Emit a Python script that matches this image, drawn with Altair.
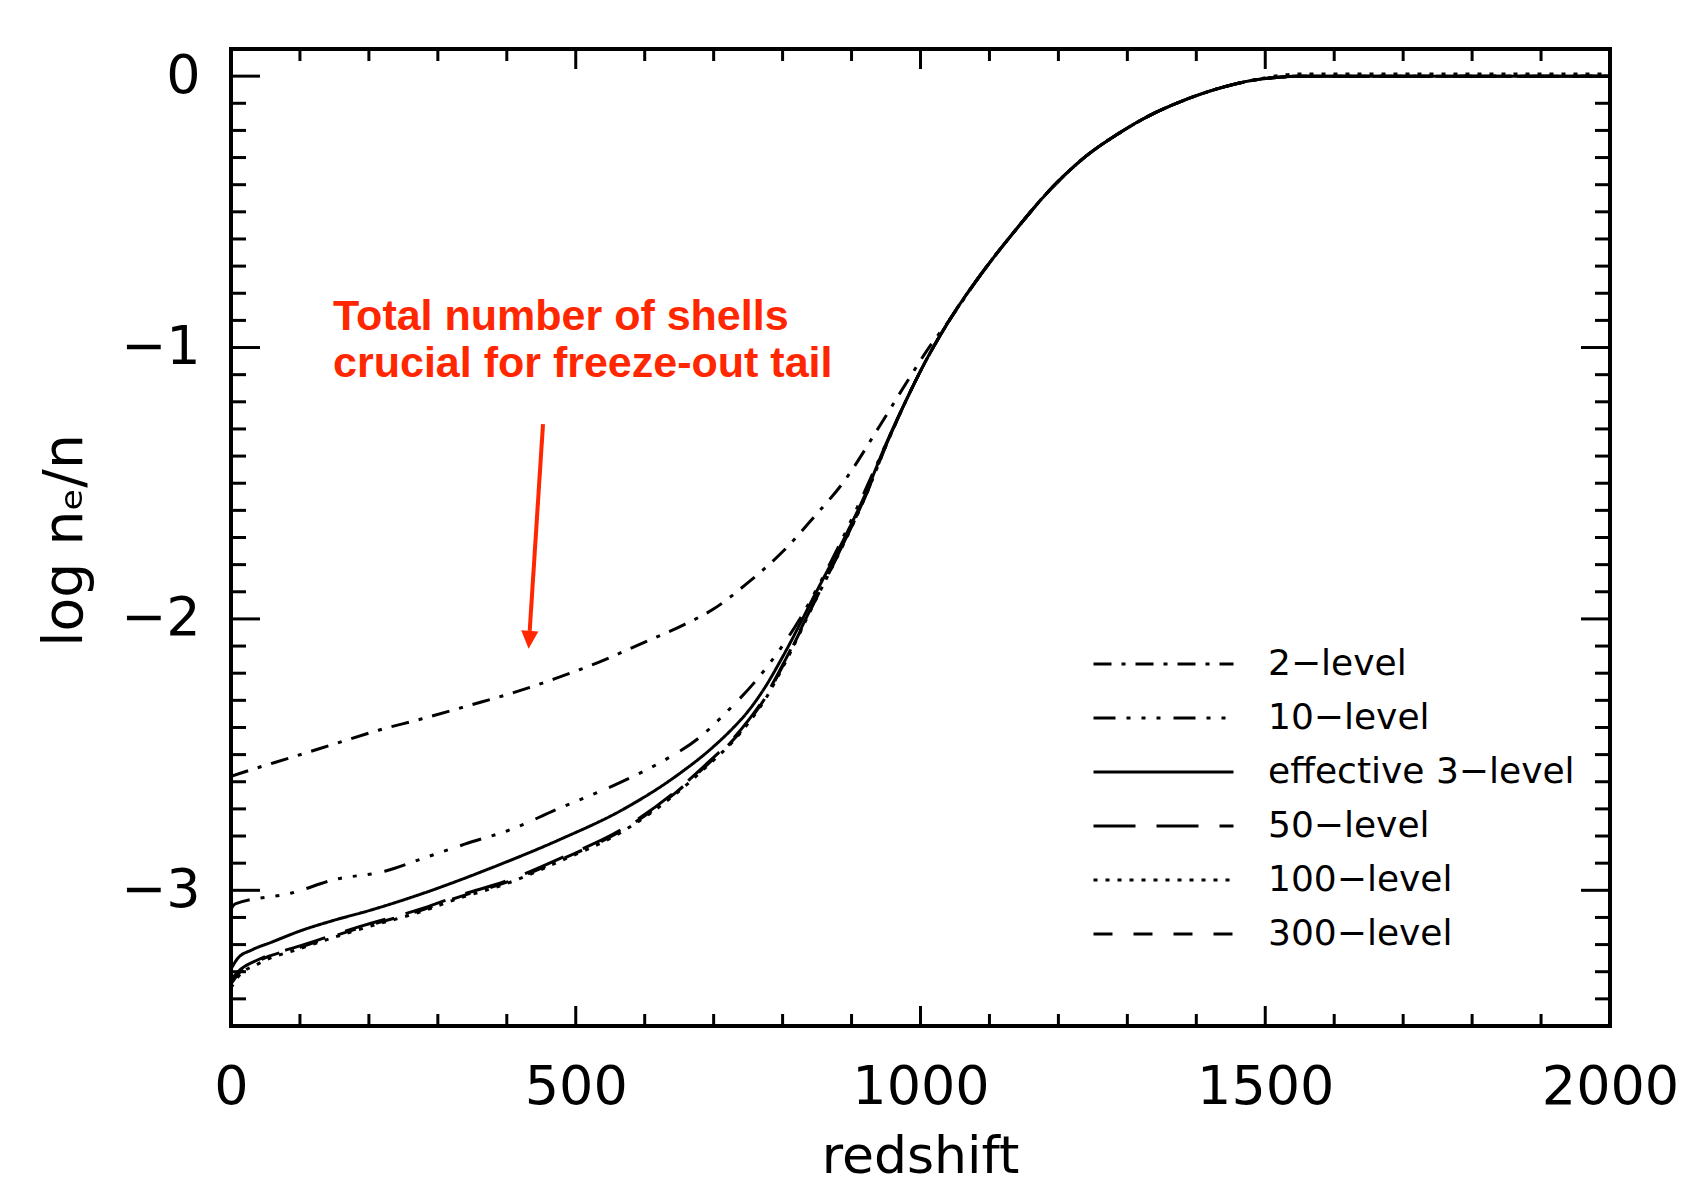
import altair as alt
import pandas as pd

# ---------------- data ----------------
SERIES = ["2\u2212level", "10\u2212level", "effective 3\u2212level",
          "50\u2212level", "100\u2212level", "300\u2212level"]

Z_2LEV = [0, 18, 88, 151, 214, 277, 344, 412, 470, 533, 596, 658, 702, 748, 801, 845, 888,
          941, 980, 1014, 1043, 1086, 1135, 1193, 1240, 1285, 1330, 1381, 1430, 1478, 1520,
          1550, 2000]
V_2LEV = [-2.58, -2.565, -2.51, -2.46, -2.41, -2.368, -2.32, -2.27, -2.22, -2.16, -2.09,
          -2.02, -1.96, -1.87, -1.75, -1.626, -1.497, -1.288, -1.128, -0.994, -0.895, -0.736,
          -0.576, -0.405, -0.295, -0.215, -0.148, -0.09, -0.047, -0.017, -0.004, 0, 0]

Z_10LEV = [0, 6, 88, 151, 223, 281, 339, 412, 465, 571, 629, 678, 716, 767, 825, 870, 910,
           950, 980, 1005, 1043, 1086, 1135, 1193, 1240, 1285, 1330, 1381, 1430, 1478, 1520,
           1550, 2000]
V_10LEV = [-3.07, -3.05, -3.01, -2.96, -2.93, -2.88, -2.83, -2.77, -2.71, -2.595, -2.52,
           -2.44, -2.35, -2.21, -2.00, -1.79, -1.58, -1.355, -1.19, -1.062, -0.895, -0.736,
           -0.576, -0.405, -0.295, -0.215, -0.148, -0.09, -0.047, -0.017, -0.004, 0, 0]

Z_EFF3 = [0, 10, 30, 60, 100, 150, 200, 280, 380, 475, 570, 645, 700, 725, 750, 775, 800,
          850, 890, 920, 950, 980, 1005, 1043, 1086, 1135, 1193, 1240, 1285, 1330, 1381,
          1430, 1478, 1520, 1550, 2000]
V_EFF3 = [-3.29, -3.25, -3.22, -3.19, -3.15, -3.11, -3.075, -3.01, -2.915, -2.815, -2.70,
          -2.58, -2.47, -2.41, -2.34, -2.25, -2.14, -1.895, -1.70, -1.54, -1.355, -1.19,
          -1.062, -0.895, -0.736, -0.576, -0.405, -0.295, -0.215, -0.148, -0.09, -0.047,
          -0.017, -0.004, 0, 0]

Z_MANY = [0, 10, 40, 100, 185, 280, 330, 400, 475, 570, 645, 700, 725, 750, 775, 800, 850,
          890, 920, 950, 980, 1005, 1043, 1086, 1135, 1193, 1240, 1285, 1330, 1381, 1430,
          1478, 1520, 1550, 2000]
V_50LEV = [-3.33, -3.30, -3.255, -3.205, -3.135, -3.065, -3.02, -2.965, -2.885, -2.77,
           -2.635, -2.51, -2.45, -2.375, -2.285, -2.17, -1.915, -1.712, -1.548, -1.36,
           -1.19, -1.062, -0.895, -0.736, -0.576, -0.405, -0.295, -0.215, -0.148, -0.09,
           -0.047, -0.017, -0.004, 0, 0]
V_100LEV = [-3.36, -3.32, -3.27, -3.215, -3.145, -3.075, -3.03, -2.975, -2.895, -2.78,
            -2.645, -2.52, -2.46, -2.385, -2.295, -2.18, -1.92, -1.716, -1.55, -1.362,
            -1.19, -1.062, -0.895, -0.736, -0.576, -0.405, -0.295, -0.215, -0.148, -0.09,
            -0.047, -0.017, 0.002, 0.008, 0.008]
V_300LEV = [-3.345, -3.31, -3.26, -3.21, -3.14, -3.07, -3.025, -2.97, -2.89, -2.775, -2.64,
            -2.515, -2.455, -2.38, -2.29, -2.175, -1.918, -1.714, -1.549, -1.361, -1.19,
            -1.062, -0.895, -0.736, -0.576, -0.405, -0.295, -0.215, -0.148, -0.09, -0.047,
            -0.017, -0.004, 0, 0]

DASHES = [[18, 10, 4, 10], [22, 11, 4, 11, 4, 11, 4, 13], [1, 0],
          [42, 21], [4, 8], [19, 21]]

X_MAJOR = [0, 500, 1000, 1500, 2000]
X_MINOR = [v for v in range(100, 2000, 100) if v % 500 != 0]
Y_MAJOR = [-3, -2, -1, 0]
Y_MINOR = [round(-3.4 + 0.1 * i, 1) for i in range(35) if abs(round(-3.4 + 0.1 * i, 1) % 1) > 1e-9]

ANN_TEXT = "Total number of shells\ncrucial for freeze-out tail"
ANN_Z, ANN_V = 148, -0.936
ARROW = {"z1": [452.5], "v1": [-1.282], "z2": [433.2], "v2": [-2.044]}
HEAD = {"z": [432.5], "v": [-2.077]}

# ---------------- build ----------------
W, H = 1379, 977
RED = "#ff2600"
FONT = "DejaVu Sans"

rows = []
for name, zs, vs in [(SERIES[0], Z_2LEV, V_2LEV), (SERIES[1], Z_10LEV, V_10LEV),
                     (SERIES[2], Z_EFF3, V_EFF3), (SERIES[3], Z_MANY, V_50LEV),
                     (SERIES[4], Z_MANY, V_100LEV), (SERIES[5], Z_MANY, V_300LEV)]:
    for z, v in zip(zs, vs):
        rows.append({"series": name, "z": z, "v": v})
df = pd.DataFrame(rows)

xs = alt.Scale(domain=[0, 2000], nice=False, zero=False)
ys = alt.Scale(domain=[-3.5, 0.1], nice=False, zero=False)

XAXIS = alt.Axis(
    values=X_MAJOR, format="d", ticks=False, domain=False, grid=False, labelFont=FONT,
    labelFontSize=54, labelColor="black", labelPadding=34, labelFlush=False,
    title="redshift", titleFont=FONT, titleFontSize=52, titleFontWeight="normal",
    titleColor="black", titleX=689, titleY=146, titleAlign="center",
    titleBaseline="alphabetic")
YAXIS = alt.Axis(
    values=Y_MAJOR, ticks=False, domain=False, grid=False, labelFont=FONT,
    labelFontSize=54, labelColor="black", labelPadding=31, labelFlush=False,
    title="log n\u2091/n", titleFont=FONT, titleFontSize=55, titleFontWeight="normal",
    titleColor="black", titleX=-150, titleY=491, titleAlign="center",
    titleBaseline="alphabetic", titleAngle=270)

lines = alt.Chart(df).mark_line(strokeWidth=3, color="black", interpolate="monotone", clip=True).encode(
    x=alt.X("z:Q", scale=xs, axis=XAXIS),
    y=alt.Y("v:Q", scale=ys, axis=YAXIS),
    strokeDash=alt.StrokeDash("series:N", scale=alt.Scale(domain=SERIES, range=DASHES),
                              sort=SERIES,
                              legend=alt.Legend(
                                  orient="none", legendX=861, legendY=597, title=None,
                                  symbolType="stroke", symbolSize=19600, symbolStrokeWidth=3,
                                  symbolStrokeColor="black", clipHeight=36, rowPadding=18,
                                  labelFont=FONT, labelFontSize=36, labelColor="black",
                                  labelOffset=33, labelLimit=600, padding=0)),
)

def tick_layer(vals, orient, length):
    d = pd.DataFrame({"z": vals, "v": vals})
    base = alt.Chart(d).mark_rule(color="black", strokeWidth=3)
    if orient == "bottom":
        return base.encode(x=alt.X("z:Q", scale=xs, axis=XAXIS), y=alt.value(H), y2=alt.value(H - length))
    if orient == "top":
        return base.encode(x=alt.X("z:Q", scale=xs, axis=XAXIS), y=alt.value(0), y2=alt.value(length))
    if orient == "left":
        return base.encode(y=alt.Y("v:Q", scale=ys, axis=YAXIS), x=alt.value(0), x2=alt.value(length))
    return base.encode(y=alt.Y("v:Q", scale=ys, axis=YAXIS), x=alt.value(W), x2=alt.value(W - length))

ticks = [
    tick_layer(X_MAJOR, "bottom", 20), tick_layer(X_MINOR, "bottom", 12),
    tick_layer(X_MAJOR, "top", 20), tick_layer(X_MINOR, "top", 12),
    tick_layer(Y_MAJOR, "left", 29), tick_layer(Y_MINOR, "left", 15),
    tick_layer(Y_MAJOR, "right", 29), tick_layer(Y_MINOR, "right", 15),
]

ann = alt.Chart(pd.DataFrame({"z": [ANN_Z], "v": [ANN_V], "t": [ANN_TEXT]})).mark_text(
    align="left", baseline="alphabetic", font="Liberation Sans", fontWeight="bold",
    fontSize=43, color=RED, lineBreak="\n", lineHeight=47
).encode(x=alt.X("z:Q", scale=xs, axis=XAXIS), y=alt.Y("v:Q", scale=ys, axis=YAXIS), text="t:N")

arrow = alt.Chart(pd.DataFrame(ARROW)).mark_rule(color=RED, strokeWidth=4).encode(
    x=alt.X("z1:Q", scale=xs, axis=XAXIS), y=alt.Y("v1:Q", scale=ys, axis=YAXIS),
    x2="z2:Q", y2="v2:Q")

head = alt.Chart(pd.DataFrame(HEAD)).mark_point(
    shape="M-0.95,-1L0.95,-1L0,1Z", filled=True, color=RED, opacity=1, size=324, angle=3.7
).encode(x=alt.X("z:Q", scale=xs, axis=XAXIS), y=alt.Y("v:Q", scale=ys, axis=YAXIS))

chart = alt.layer(lines, *ticks, ann, arrow, head).properties(
    width=W, height=H,
    autosize=alt.AutoSizeParams(type="none"),
    padding={"left": 223, "top": 41, "right": 77, "bottom": 159},
    background="white",
).configure_view(stroke="black", strokeWidth=4)

chart.save("out.html", embed_options={"renderer": "svg", "actions": False})
